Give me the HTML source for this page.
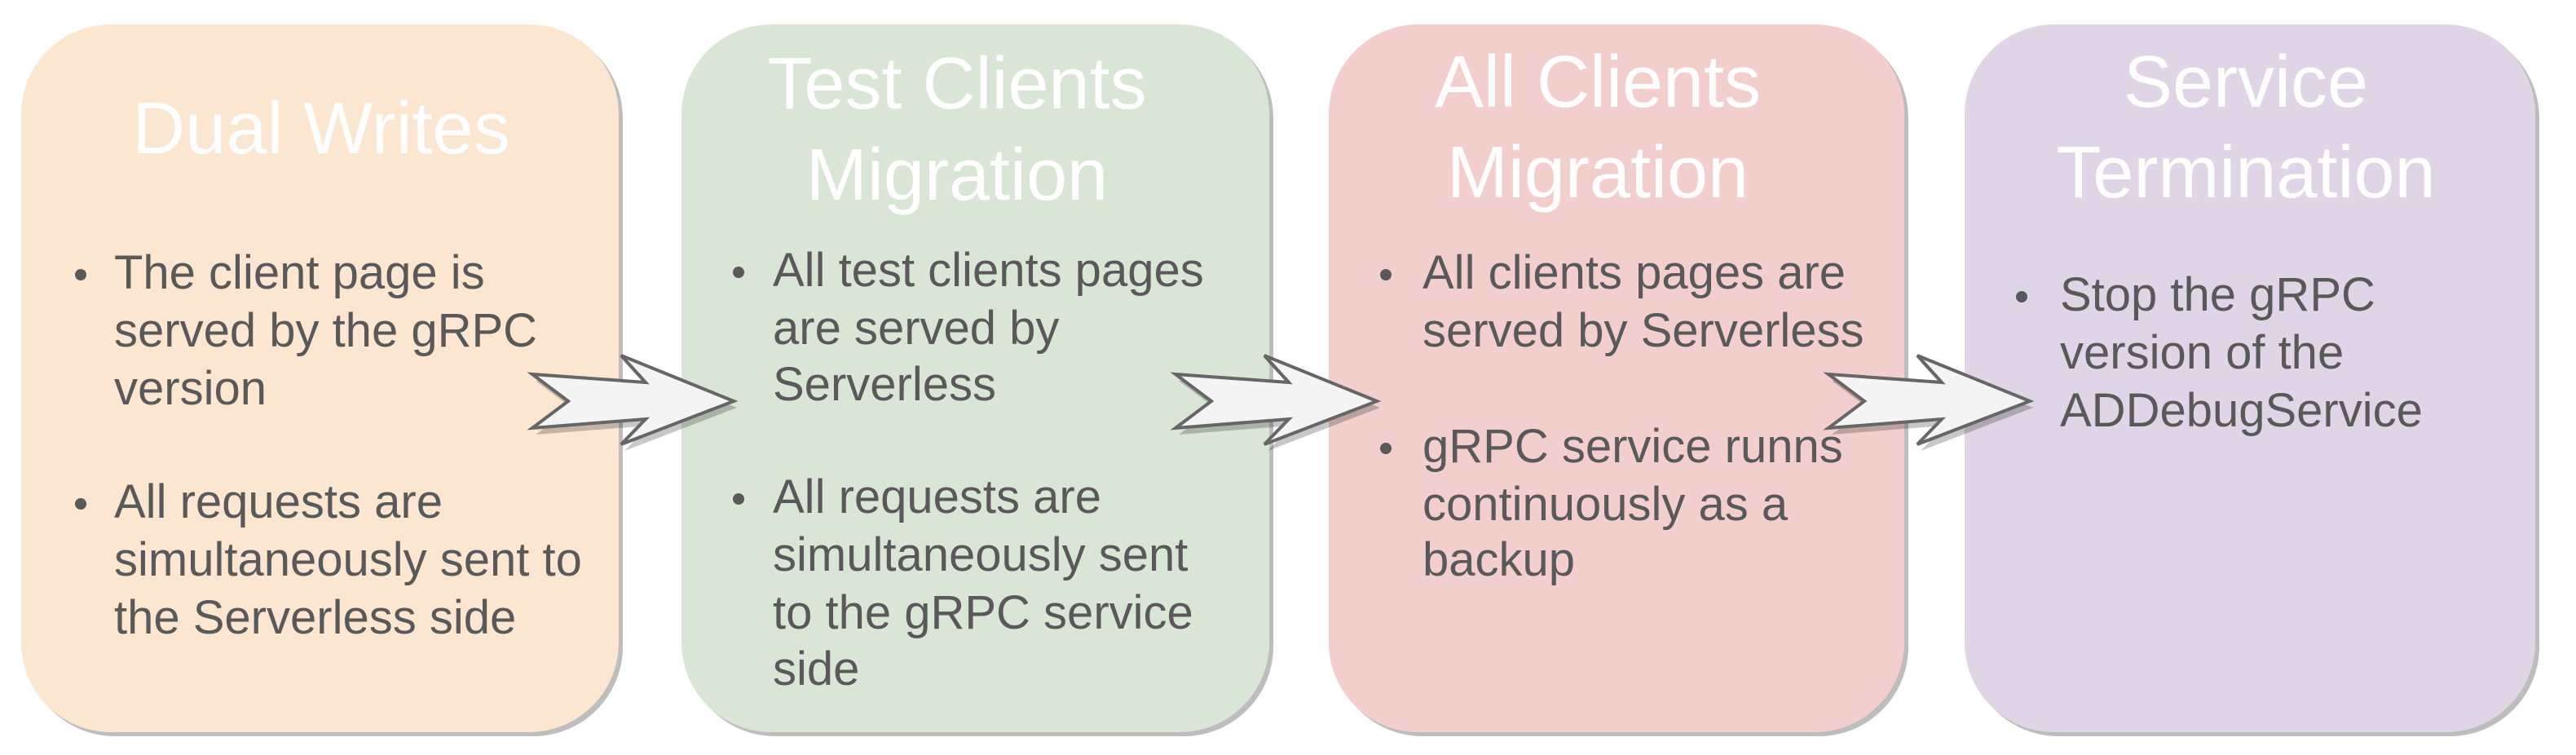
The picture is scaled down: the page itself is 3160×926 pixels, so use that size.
<!DOCTYPE html>
<html><head><meta charset="utf-8"><style>
html,body{margin:0;padding:0;background:#fff;}
svg{display:block;}
.t{font-family:"Liberation Sans",Arial,sans-serif;fill:#fff;font-size:90px;text-anchor:middle;}
.b{font-family:"Liberation Sans",Arial,sans-serif;fill:#595959;font-size:58px;}
</style></head><body>
<svg width="3160" height="926" viewBox="0 0 3160 926" xmlns="http://www.w3.org/2000/svg">
<defs>
<polygon id="arr" points="0,0 44,33 0,66 139,55 109,86 247,33 109,-23 139,10"/>
</defs>
<!-- shadows -->
<rect x="31" y="35" width="733" height="868" rx="110" fill="#bdbdbd"/>
<rect x="841" y="35" width="721" height="868" rx="110" fill="#bdbdbd"/>
<rect x="1635" y="35" width="706" height="868" rx="110" fill="#bdbdbd"/>
<rect x="2415" y="35" width="700" height="868" rx="110" fill="#bdbdbd"/>
<!-- boxes -->
<rect x="26" y="30" width="733" height="868" rx="110" fill="#fae6d1"/>
<rect x="836" y="30" width="721" height="868" rx="110" fill="#d9e6d5"/>
<rect x="1630" y="30" width="706" height="868" rx="110" fill="#f2cfcc"/>
<rect x="2410" y="30" width="700" height="868" rx="110" fill="#e0d5e6"/>

<!-- titles -->
<text class="t" x="394" y="188">Dual Writes</text>
<text class="t" x="1174" y="133">Test Clients</text>
<text class="t" x="1174" y="245">Migration</text>
<text class="t" x="1960" y="131">All Clients</text>
<text class="t" x="1960" y="242">Migration</text>
<text class="t" x="2755" y="131">Service</text>
<text class="t" x="2755" y="242">Termination</text>

<!-- box1 body -->
<g fill="#595959">
<circle cx="99" cy="337" r="7"/><circle cx="99" cy="618" r="7"/>
<circle cx="906" cy="334" r="7"/><circle cx="906" cy="612" r="7"/>
<circle cx="1700" cy="337" r="7"/><circle cx="1700" cy="550" r="7"/>
<circle cx="2480" cy="364" r="7"/>
</g>
<text class="b" x="140" y="354">The client page is</text>
<text class="b" x="140" y="425">served by the gRPC</text>
<text class="b" x="140" y="496">version</text>
<text class="b" x="140" y="635">All requests are</text>
<text class="b" x="140" y="706">simultaneously sent to</text>
<text class="b" x="140" y="777">the Serverless side</text>

<text class="b" x="948" y="351">All test clients pages</text>
<text class="b" x="948" y="422">are served by</text>
<text class="b" x="948" y="491">Serverless</text>
<text class="b" x="948" y="629">All requests are</text>
<text class="b" x="948" y="700">simultaneously sent</text>
<text class="b" x="948" y="771">to the gRPC service</text>
<text class="b" x="948" y="840">side</text>

<text class="b" x="1745" y="354">All clients pages are</text>
<text class="b" x="1745" y="425">served by Serverless</text>
<text class="b" x="1745" y="567">gRPC service runns</text>
<text class="b" x="1745" y="638">continuously as a</text>
<text class="b" x="1745" y="706">backup</text>

<text class="b" x="2527" y="381">Stop the gRPC</text>
<text class="b" x="2527" y="452">version of the</text>
<text class="b" x="2527" y="523">ADDebugService</text>

<!-- arrows -->
<g fill="rgba(0,0,0,0.22)">
<use href="#arr" x="657" y="467"/>
<use href="#arr" x="1446" y="467"/>
<use href="#arr" x="2247" y="467"/>
</g>
<g fill="#f4f4f4" stroke="#666" stroke-width="4" stroke-linejoin="miter">
<use href="#arr" x="653" y="459"/>
<use href="#arr" x="1442" y="459"/>
<use href="#arr" x="2243" y="459"/>
</g>
</svg>
</body></html>
